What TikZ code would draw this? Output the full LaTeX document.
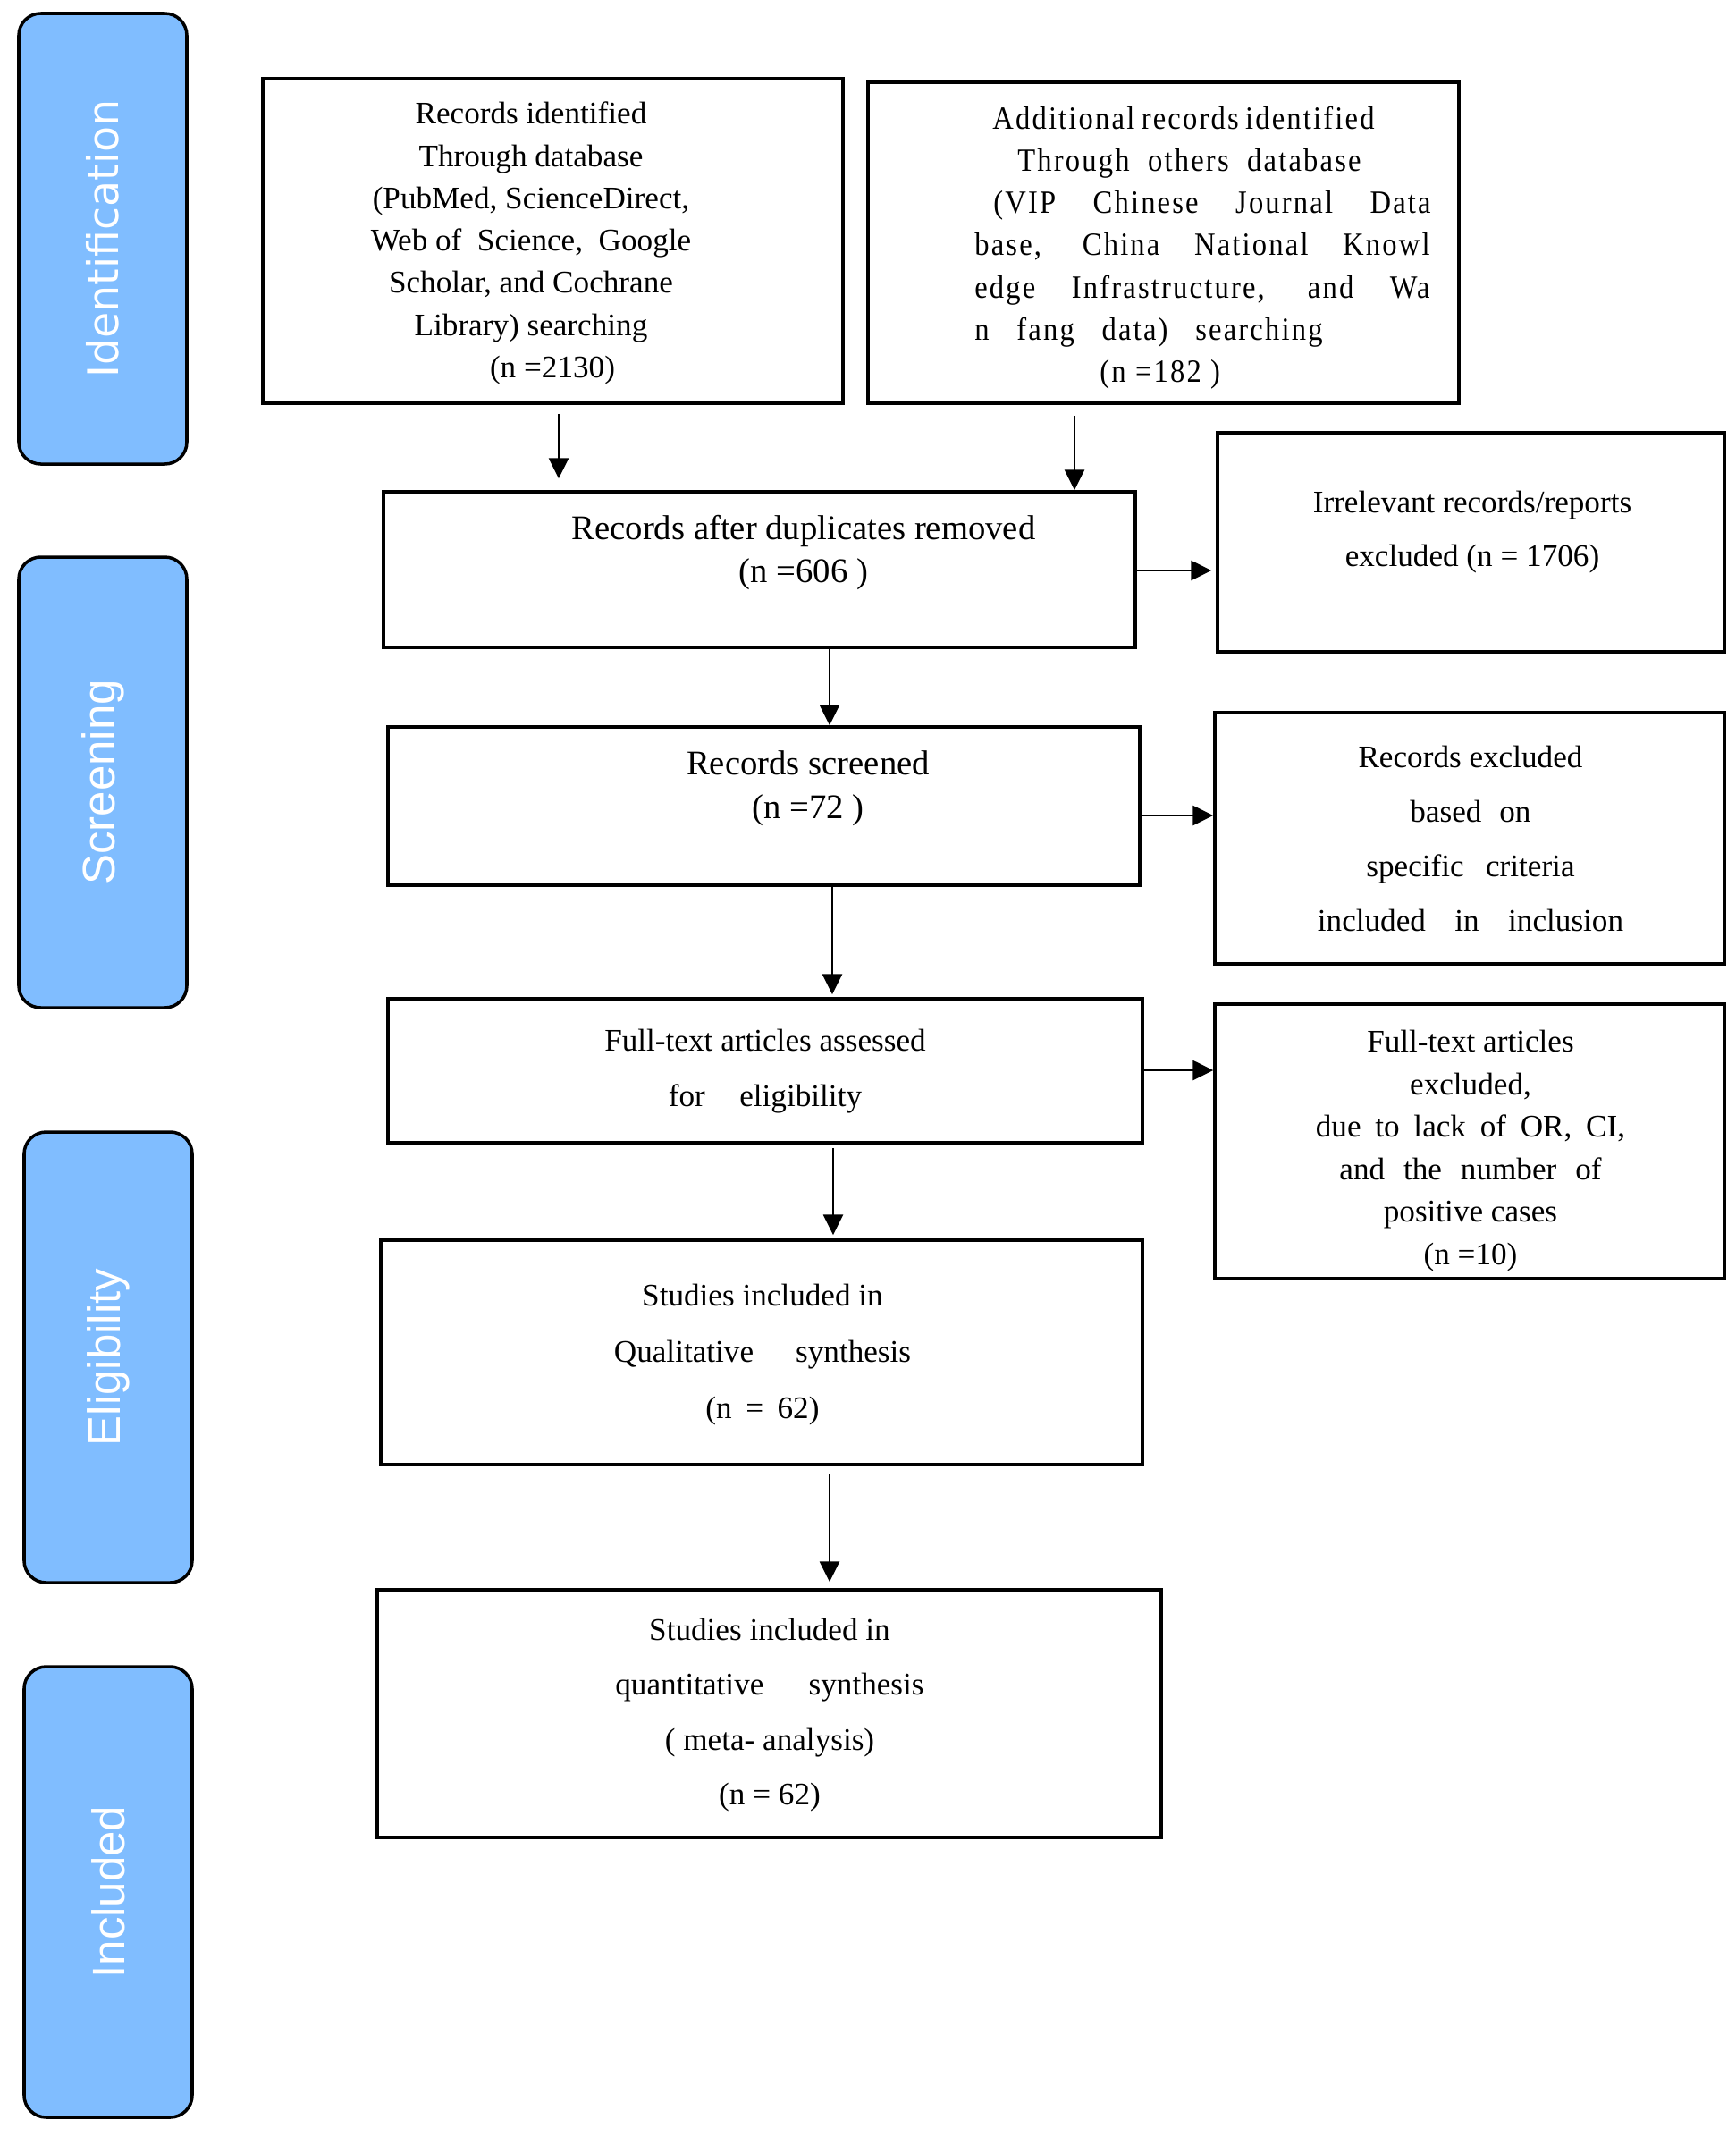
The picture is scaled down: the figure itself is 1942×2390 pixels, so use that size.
\documentclass[tikz,border=0pt]{standalone}
\usepackage{fontspec}
\setmainfont{Liberation Serif}
\newfontfamily\idfont{DejaVu Sans}
\newfontfamily\phfont{Liberation Sans}
\newfontfamily\spfont{Liberation Serif}[FakeStretch=0.9,LetterSpace=6]
\usetikzlibrary{arrows.meta,fit}
\definecolor{phaseblue}{RGB}{128,189,255}
\newcommand{\setfs}[2]{\fontsize{#1}{#2}\selectfont}
\tikzset{
  flowbox/.style={draw, line width=1pt, inner sep=0pt},
  phasebox/.style={draw, line width=1pt, fill=phaseblue, rounded corners=7pt, inner sep=0pt},
  phasetext/.style={text=white, rotate=90, inner sep=0pt, font=\phfont\setfs{14.5}{17}},
  boxtext/.style={inner sep=0pt, align=center},
  arr/.style={line width=0.5pt, -{Triangle[length=6.5pt,width=6.3pt]}},
}
\begin{document}
\begin{tikzpicture}[x=0.01cm,y=-0.01cm]
\useasboundingbox (0,0) rectangle (1942,2390);

% phase boxes
\node[phasebox, fit={(21,15)(209,519)}] (pid) {};
\node[phasetext, font=\idfont\setfs{13.5}{16}] (tid) at (pid.center) {Identification};
\node[phasebox, fit={(21,623)(209,1127)}] (pscr) {};
\node[phasetext] (tscr) at (pscr.center) {Screening};
\node[phasebox, fit={(27,1266)(215,1770)}] (pel) {};
\node[phasetext] (tel) at (pel.center) {Eligibility};
\node[phasebox, fit={(27,1864)(215,2368)}] (pin) {};
\node[phasetext] (tin) at (pin.center) {Included};

% flow boxes
\node[flowbox, fit={(294,88)(943,451)}] (b1) {};
\node[flowbox, fit={(971,92)(1632,451)}] (b2) {};
\node[flowbox, fit={(429,550)(1270,724)}] (b3) {};
\node[flowbox, fit={(1362,484)(1929,729)}] (b4) {};
\node[flowbox, fit={(434,813)(1275,990)}] (b5) {};
\node[flowbox, fit={(1359,797)(1929,1078)}] (b6) {};
\node[flowbox, fit={(434,1117)(1278,1278)}] (b7) {};
\node[flowbox, fit={(1359,1123)(1929,1430)}] (b8) {};
\node[flowbox, fit={(426,1387)(1278,1638)}] (b9) {};
\node[flowbox, fit={(422,1778)(1299,2055)}] (b10) {};

% texts
\node[boxtext, font=\setfs{10}{13.45}] (t1) at (594,272) {Records identified\\
 Through database\\
(PubMed, ScienceDirect,\\
Web of\ \ Science,\ \ Google\\
Scholar, and Cochrane\\
Library) searching\\
\hspace*{0.48cm}(n =2130)};

\node[inner sep=0pt, align=left, font=\spfont\setfs{10.3}{13.4}] (t2) at (1345,277) {%
\makebox[5.09cm][l]{\hspace*{0.20cm}\makebox[4.27cm][s]{Additional records identified}}\\
\makebox[5.09cm][l]{\hspace*{0.48cm}\makebox[3.84cm][s]{Through others database}}\\
\makebox[5.09cm][l]{\hspace*{0.21cm}\makebox[4.89cm][s]{(VIP Chinese Journal Data}}\\
\makebox[5.09cm][l]{\makebox[5.09cm][s]{base, China National Knowl}}\\
\makebox[5.09cm][l]{\makebox[5.09cm][s]{edge Infrastructure, and Wa}}\\
\makebox[5.09cm][l]{\makebox[3.89cm][s]{n fang data) searching}}\\
\makebox[5.09cm][l]{\hspace*{1.40cm}(n =182 )}};

\node[boxtext, font=\setfs{11}{13.4}] (t3) at (899,618) {Records after duplicates removed\\(n =606 )};
\node[boxtext, font=\setfs{10}{17.1}] (t4) at (1647,595) {Irrelevant records/reports\\excluded (n = 1706)};
\node[boxtext, font=\setfs{11}{13.9}] (t5) at (904,882) {Records screened\\(n =72 )};
\node[boxtext, font=\setfs{10}{17.4}] (t6) at (1645,938) {Records excluded\\
\makebox[1.35cm][s]{based on}\\
\makebox[2.33cm][s]{specific criteria}\\
\makebox[3.42cm][s]{included in inclusion}};
\node[boxtext, font=\setfs{10}{17.4}] (t7) at (856,1198) {Full-text articles assessed\\
\makebox[2.16cm][s]{for eligibility}};
\node[boxtext, font=\setfs{10}{13.5}] (t8) at (1645,1287) {Full-text articles\\
excluded,\\
\makebox[3.46cm][s]{due to lack of OR, CI,}\\
\makebox[2.93cm][s]{and the number of}\\
positive cases\\
(n =10)};
\node[boxtext, font=\setfs{10}{17.8}] (t9) at (853,1515) {Studies included in\\
\makebox[3.32cm][s]{Qualitative synthesis}\\
\makebox[1.27cm][s]{(n = 62)}};
\node[boxtext, font=\setfs{10}{17.4}] (t10) at (861,1918) {Studies included in\\
\makebox[3.45cm][s]{quantitative synthesis}\\
( meta- analysis)\\
(n = 62)};

% connector guides
\coordinate (x1) at (625,0);
\coordinate (x2) at (1202,0);
\coordinate (x4) at (928,0);
\coordinate (x6) at (931,0);
\coordinate (x8) at (932,0);
\coordinate (x9) at (928,0);
\coordinate (y3) at (0,638);
\coordinate (y5) at (0,912);
\coordinate (y7) at (0,1197);

% connectors
\draw[arr, shorten <=0.10cm, shorten >=0.13cm] (b1.south -| x1) -- (b3.north -| x1);
\draw[arr, shorten <=0.12cm] (b2.south -| x2) -- (b3.north -| x2);
\draw[arr, shorten >=0.05cm] (b3.east |- y3) -- (b4.west |- y3);
\draw[arr] (b3.south -| x4) -- (b5.north -| x4);
\draw[arr] (b5.east |- y5) -- (b6.west |- y5);
\draw[arr, shorten >=0.03cm] (b5.south -| x6) -- (b7.north -| x6);
\draw[arr] (b7.east |- y7) -- (b8.west |- y7);
\draw[arr, shorten <=0.04cm, shorten >=0.04cm] (b7.south -| x8) -- (b9.north -| x8);
\draw[arr, shorten <=0.09cm, shorten >=0.07cm] (b9.south -| x9) -- (b10.north -| x9);
\end{tikzpicture}
\end{document}
